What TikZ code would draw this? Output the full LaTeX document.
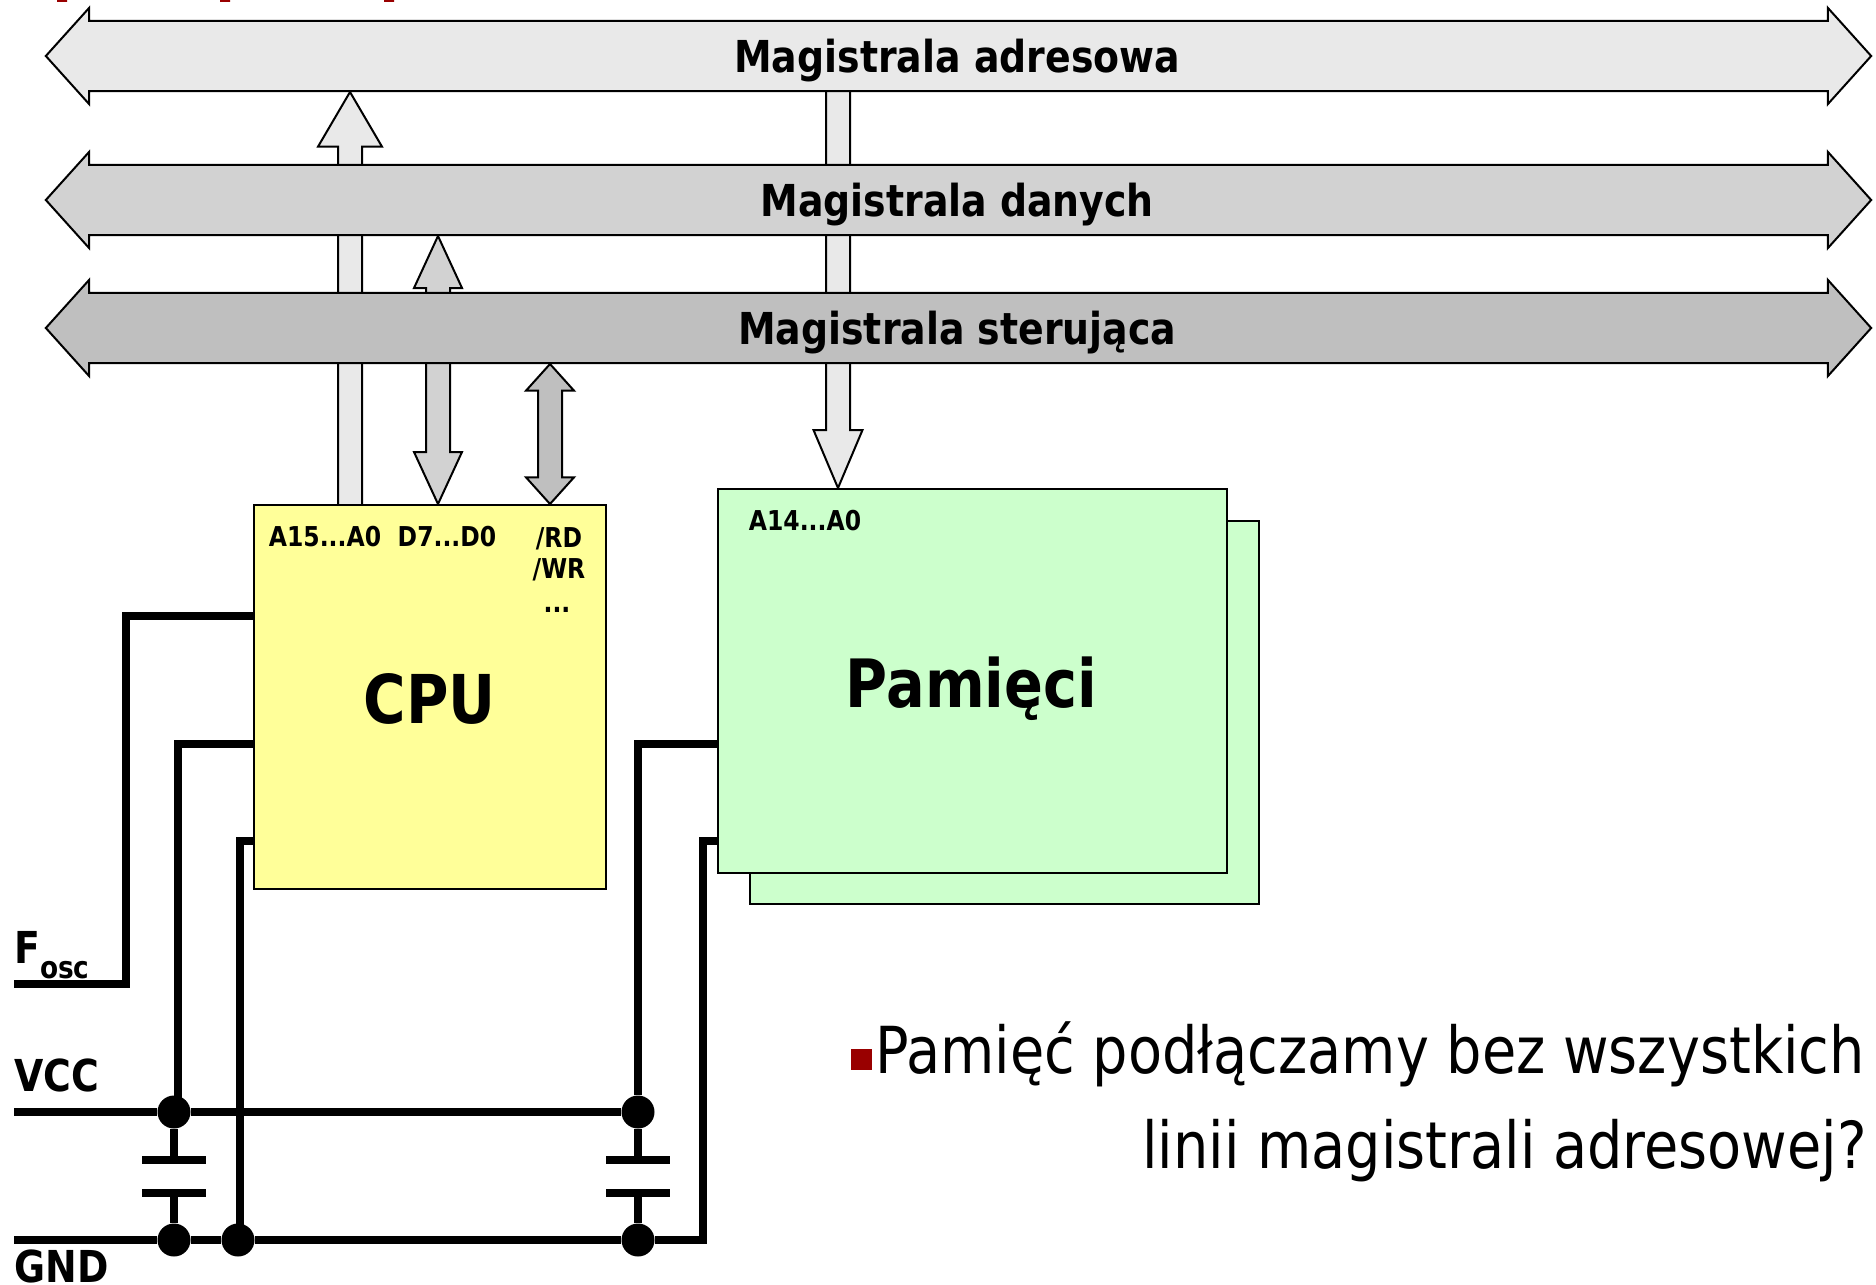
\documentclass[tikz,border=0pt]{standalone}
\usepackage{fontspec}
\setmainfont{DejaVu Sans}[FakeStretch=.86]
\usetikzlibrary{calc,shapes.arrows,backgrounds}

\definecolor{addrgray}{HTML}{E9E9E9}
\definecolor{datagray}{HTML}{D2D2D2}
\definecolor{ctrlgray}{HTML}{BFBFBF}
\definecolor{cpuyellow}{HTML}{FFFF99}
\definecolor{memgreen}{HTML}{CCFFCC}
\definecolor{darkred}{HTML}{990000}

\tikzset{
	onehead/.style n args={3}{to path={
		let \p1=($(\tikztotarget)!#3!(\tikztostart)$) in
		($(\tikztostart)+(-#1,0)$) -- (\x1-#1*.75pt,\y1) -- (\x1-#2*.75pt,\y1) -- (\tikztotarget)
		-- (\x1+#2*.75pt,\y1) -- (\x1+#1*.75pt,\y1) -- ($(\tikztostart)+(#1,0)$)}},
	twohead/.style n args={3}{to path={
		let \p1=($(\tikztotarget)!#3!(\tikztostart)$),\p2=($(\tikztostart)!#3!(\tikztotarget)$) in
		(\tikztostart) -- (\x2-#2*.75pt,\y2) -- (\x2-#1*.75pt,\y2) -- (\x1-#1*.75pt,\y1) -- (\x1-#2*.75pt,\y1) -- (\tikztotarget)
		-- (\x1+#2*.75pt,\y1) -- (\x1+#1*.75pt,\y1) -- (\x2+#1*.75pt,\y2) -- (\x2+#2*.75pt,\y2) -- cycle}},
	bus/.style={double arrow,draw=black,line width=1.5pt,minimum height=1369pt,minimum width=72pt,
		double arrow head extend=4.8pt,double arrow tip angle=96,inner sep=0pt,text height=25pt,text depth=0pt,
		font=\fontsize{33}{33}\selectfont\bfseries},
	bar/.style={draw=black,line width=1.5pt,line join=miter},
	box/.style={draw=black,line width=1.5pt,rectangle,anchor=north west,inner sep=0pt},
	wire/.style={line width=5.5pt,line cap=butt,line join=miter},
	dot/.style={circle,fill=black,minimum size=24.75pt,inner sep=0pt},
	plate/.style={rectangle,fill=black,minimum width=48pt,minimum height=6pt,inner sep=0pt},
	pin/.style={font=\fontsize{20.5}{20.5}\selectfont\bfseries,inner sep=0pt},
	rail/.style={font=\fontsize{33}{33}\selectfont\bfseries,anchor=west,inner sep=0pt}
}

\begin{document}
\begin{tikzpicture}[x=.75pt,y=-.75pt]
	\useasboundingbox (0,0) rectangle (1876,1284);
	% title remains
	\fill[darkred] (57,0) rectangle (67,2) (220,0) rectangle (230,2) (384,0) rectangle (394,2);

	\node[bus,fill=addrgray](addr) at (958.5,56){\kern-2pt Magistrala adresowa};
	\node[bus,fill=datagray](data) at (958.5,200){\kern-2pt Magistrala danych};
	\node[bus,fill=ctrlgray](ctrl) at (958.5,328){\kern-2pt Magistrala sterująca};

	\node[box,fill=memgreen,minimum width=382pt,minimum height=287pt](memback) at (749,520){};
	\node[box,fill=memgreen,minimum width=382pt,minimum height=288pt](mem) at (717,487.5){};
	\node[box,fill=cpuyellow,minimum width=264pt,minimum height=288pt](cpu) at (253,503.5){};

	\coordinate(cpua) at (350,504);
	\coordinate(addrcpu) at (350,92);
	\coordinate(cpud) at (438,504);
	\coordinate(datacpu) at (438,236);
	\coordinate(cpuc) at (550,504);
	\coordinate(ctrlcpu) at (550,364);
	\coordinate(mema) at (838,488);
	\coordinate(addrmem) at (838,92);

	\begin{pgfonlayer}{background}
		\path[bar,fill=addrgray] (cpua) to[onehead={12}{32}{41pt}] (addrcpu);
		\path[bar,fill=addrgray] (addrmem) to[onehead={12}{24.5}{43.5pt}] (mema);
		\path[bar,fill=datagray] (cpud) to[twohead={12}{24}{39pt}] (datacpu);
		\path[bar,fill=ctrlgray] (cpuc) to[twohead={12}{24}{20pt}] (ctrlcpu);
	\end{pgfonlayer}

	\node[pin] at (325,537){A15...A0};
	\node[pin] at (447,537){D7...D0};
	\node[pin] at (559,539){/RD};
	\node[pin] at (559,570){/WR};
	\node[pin] at (557,610){...};
	\node[pin] at (805,521){A14...A0};
	\node[font=\fontsize{50.5}{50.5}\selectfont\bfseries] at (429.5,699){CPU};
	\node[font=\fontsize{50}{50}\selectfont\bfseries] at (971.5,689){Pamięci};

	\coordinate(foscin) at (14,984);
	\coordinate(vccin) at (14,1112);
	\coordinate(gndin) at (14,1240);
	\node[rail](fosc) at (14,955){F\raisebox{-.35em}{\fontsize{23}{23}\selectfont osc}};
	\node[rail](vcclabel) at (14,1075){VCC};
	\node[rail](gndlabel) at (14,1266){GND};

	\node[dot](vcca) at (174,1112){};
	\node[dot](vccb) at (638,1112){};
	\node[dot](gnda) at (174,1240){};
	\node[dot](gndb) at (238,1240){};
	\node[dot](gndc) at (638,1240){};
	\node[plate](capat) at (174,1160){};
	\node[plate](capab) at (174,1193){};
	\node[plate](capbt) at (638,1160){};
	\node[plate](capbb) at (638,1193){};

	\draw[wire] (foscin) -- (126,984) -- (126,616) -- (cpu.west |- 0,616);
	\draw[wire] (vccin) -- (vcca) -- (vccb);
	\draw[wire] (gndin) -- (gnda) -- (gndb) -- (gndc) -- (703,1240) -- (703,841) -- (mem.west |- 0,841);
	\draw[wire] (178,1112) -- (178,744) -- (cpu.west |- 0,744);
	\draw[wire] (gndb.center -| 240,0) -- (240,841) -- (cpu.west |- 0,841);
	\draw[wire] (vccb) -- (638,744) -- (mem.west |- 0,744);
	\draw[wire] (vcca) -- (capat);
	\draw[wire] (capab) -- (gnda);
	\draw[wire] (vccb) -- (capbt);
	\draw[wire] (capbb) -- (gndc);

	\fill[darkred] (851,1049) rectangle (872,1070);
	\node[anchor=base east,inner sep=0pt,font=\fontsize{48.6}{48.6}\selectfont](question) at (1865,1073){Pamięć podłączamy bez wszystkich};
	\node[anchor=base east,inner sep=0pt,font=\fontsize{48.6}{48.6}\selectfont](questionb) at (1867,1168){linii magistrali adresowej?};
\end{tikzpicture}
\end{document}
